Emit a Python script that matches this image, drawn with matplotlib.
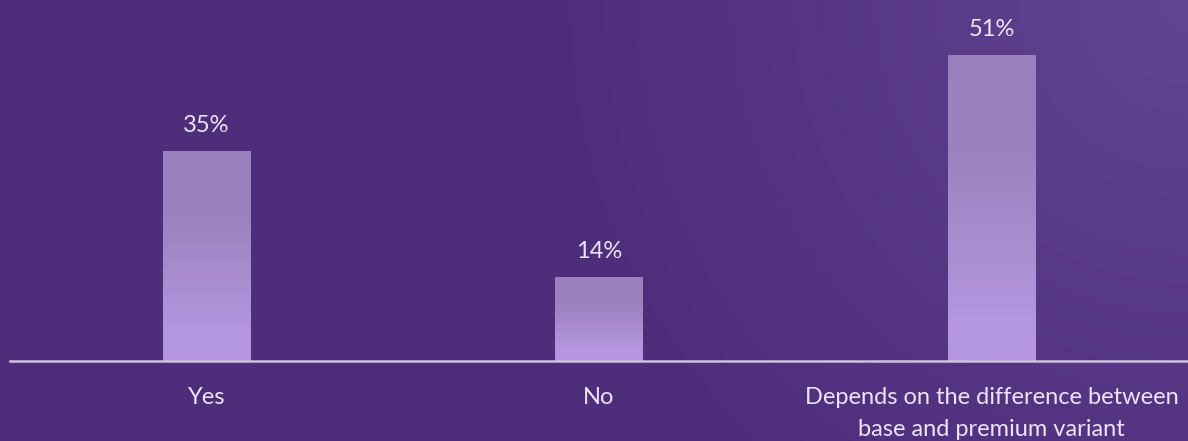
import numpy as np
import matplotlib
matplotlib.use("Agg")
import matplotlib.pyplot as plt
from matplotlib.colors import LinearSegmentedColormap

categories = ["Yes", "No", "Depends on the difference between\nbase and premium variant"]
values = [35, 14, 51]
value_labels = ["35%", "14%", "51%"]

W, H = 1188, 441
fig = plt.figure(figsize=(W / 100, H / 100), dpi=100)

# background radial gradient (lighter at top-right)
bg = fig.add_axes([0, 0, 1, 1], zorder=-10)
yy, xx = np.mgrid[0:H, 0:W]
d = np.sqrt((xx - W) ** 2 + (yy - 0) ** 2)
t = np.clip(d / 650.0, 0, 1)
c_in = np.array([98, 68, 145]) / 255
c_out = np.array([78, 45, 123]) / 255
img = c_in[None, None, :] * (1 - t[..., None]) + c_out[None, None, :] * t[..., None]
bg.imshow(img, aspect="auto", extent=[0, 1, 0, 1], origin="upper")
bg.axis("off")

ax = fig.add_axes([10 / W, 80 / H, (W - 10) / W, 360 / H])
ax.set_facecolor("none")
ax.set_xlim(-0.5, 2.5)
ax.set_ylim(0, 60)

x = np.arange(len(categories))
bars = ax.bar(x, values, width=0.222, color="none", zorder=2)

cmap = LinearSegmentedColormap.from_list(
    "bar", [(0.0, "#b597e0"), (0.15, "#b396de"), (0.7, "#9b81be"), (1.0, "#9a80bc")])
grad = np.linspace(0, 1, 256).reshape(-1, 1)
for b in bars:
    x0, y0 = b.get_x(), b.get_y()
    w, h = b.get_width(), b.get_height()
    im = ax.imshow(grad, cmap=cmap, aspect="auto", origin="lower",
                   extent=[x0, x0 + w, y0, y0 + h], zorder=2, interpolation="bilinear")
    im.set_clip_path(b)

ax.set_xlim(-0.5, 2.5)
ax.set_ylim(0, 60)

txt_color = "#ece4f5"
for xi, v, lab in zip(x, values, value_labels):
    ax.annotate(lab, (xi, v), xytext=(0, 11), textcoords="offset points",
                ha="center", va="bottom", color=txt_color, fontsize=17,
                family="Lato")

for s in ["top", "right", "left"]:
    ax.spines[s].set_visible(False)
ax.spines["bottom"].set_color("#cbc3dc")
ax.spines["bottom"].set_linewidth(1.8)
ax.spines["bottom"].set_zorder(3)
ax.set_yticks([])
ax.set_xticks(x)
ax.set_xticklabels(categories, color=txt_color, fontsize=17, family="Lato",
                   linespacing=1.6)
ax.tick_params(axis="x", length=0, pad=19)

fig.savefig("out.png", dpi=100)
